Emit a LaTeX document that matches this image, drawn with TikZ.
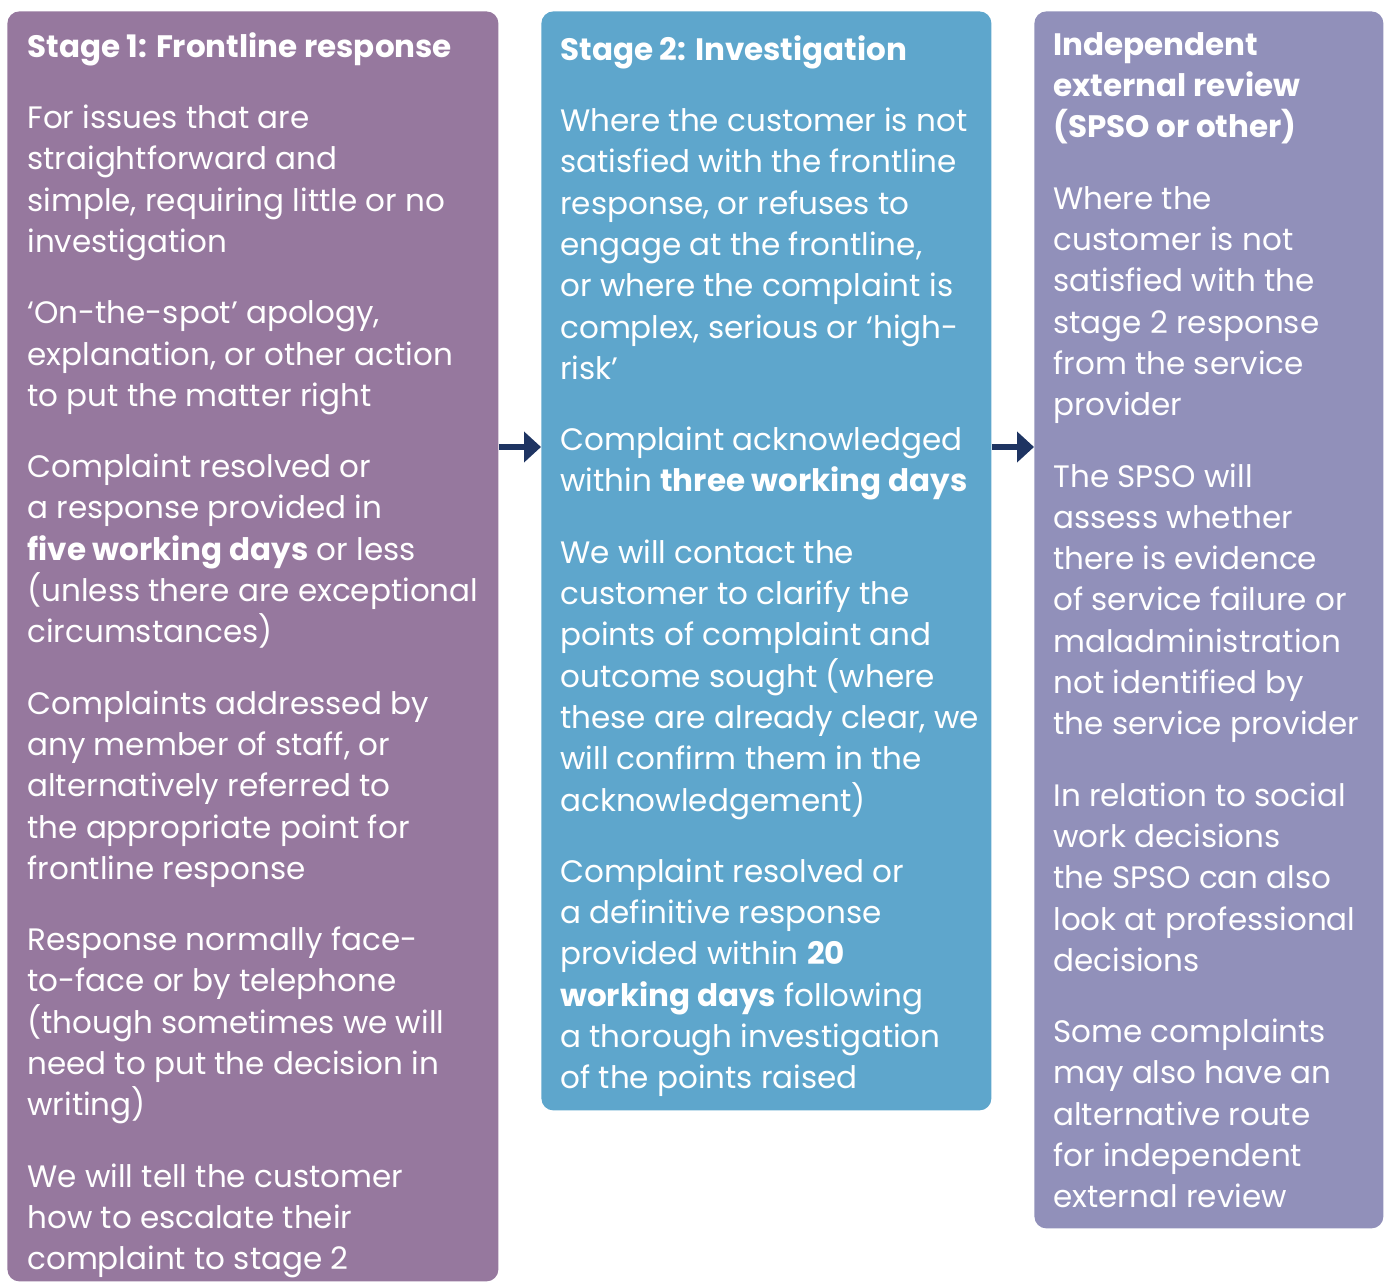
\documentclass[tikz,border=0pt]{standalone}
\usepackage{fontspec}
\setmainfont{Poppins}
\usetikzlibrary{positioning}
\usetikzlibrary{arrows.meta}

\definecolor{stageone}{HTML}{96789E}
\definecolor{stagetwo}{HTML}{5EA6CC}
\definecolor{stagethree}{HTML}{9190BA}
\definecolor{navyarrow}{HTML}{1E3462}

\begin{document}
\begin{tikzpicture}[x=0.5pt,y=-0.5pt,>={Triangle[width=15pt,length=8.5pt]}]
    \tikzset{stagebox/.style= {rectangle, rounded corners=6pt, inner sep=0pt, anchor=north west},
             stagetext/.style={text=white, align=left, anchor=north west, inner sep=0pt,
                               font=\fontsize{15.5}{20.65}\selectfont},
             flow/.style={draw=navyarrow, line width=3pt, ->},}

    \useasboundingbox (0,0) rectangle (1387,1283);

    \node [stagebox, fill=stageone, minimum width=245.5pt, minimum height=635pt] (stage1) at (7,11) {};
    \node [stagebox, fill=stagetwo, minimum width=225pt, minimum height=549.5pt] (stage2) at (541,11) {};
    \node [stagebox, fill=stagethree, minimum width=174.5pt, minimum height=608.5pt] (stage3) at (1034,11) {};

    \node [stagetext] (text1) at ([shift={(20,21)}]stage1.north west) {%
        \textbf{Stage 1: Frontline response}\\[15pt]
        For issues that are\\ straightforward and\\ simple, requiring little or no\\ investigation\\[15pt]
        ‘On-the-spot’ apology,\\ explanation, or other action\\ to put the matter right\\[15pt]
        Complaint resolved or\\ a response provided in\\ \textbf{five working days} or less\\
        (unless there are exceptional\\ circumstances)\\[15pt]
        Complaints addressed by\\ any member of staff, or\\ alternatively referred to\\
        the appropriate point for\\ frontline response\\[15pt]
        Response normally face-\\ to-face or by telephone\\ (though sometimes we will\\
        need to put the decision in\\ writing)\\[15pt]
        We will tell the customer\\ how to escalate their\\ complaint to stage 2};

    \node [stagetext] (text2) at ([shift={(19,24)}]stage2.north west) {%
        \textbf{Stage 2: Investigation}\\[15pt]
        Where the customer is not\\ satisfied with the frontline\\ response, or refuses to\\
        engage at the frontline,\\ or where the complaint is\\ complex, serious or ‘high-\\ risk’\\[15pt]
        Complaint acknowledged\\ within \textbf{three working days}\\[15pt]
        We will contact the\\ customer to clarify the\\ points of complaint and\\ outcome sought (where\\
        these are already clear, we\\ will confirm them in the\\ acknowledgement)\\[15pt]
        Complaint resolved or\\ a definitive response\\ provided within \textbf{20}\\
        \textbf{working days} following\\ a thorough investigation\\ of the points raised};

    \node [stagetext] (text3) at ([shift={(19,21)}]stage3.north west) {%
        \textbf{Independent}\\ \textbf{external review}\\ \textbf{(SPSO or other)}\\[15pt]
        Where the\\ customer is not\\ satisfied with the\\ stage 2 response\\ from the service\\ provider\\[15pt]
        The SPSO will\\ assess whether\\ there is evidence\\ of service failure or\\
        maladministration\\ not identified by\\ the service provider\\[15pt]
        In relation to social\\ work decisions\\ the SPSO can also\\ look at professional\\ decisions\\[15pt]
        Some complaints\\ may also have an\\ alternative route\\ for independent\\ external review};

    \coordinate (arrowrow) at (0,447);
    \draw [flow] (stage1.east |- arrowrow) -- (stage2.west |- arrowrow);
    \draw [flow] (stage2.east |- arrowrow) -- (stage3.west |- arrowrow);
\end{tikzpicture}
\end{document}
